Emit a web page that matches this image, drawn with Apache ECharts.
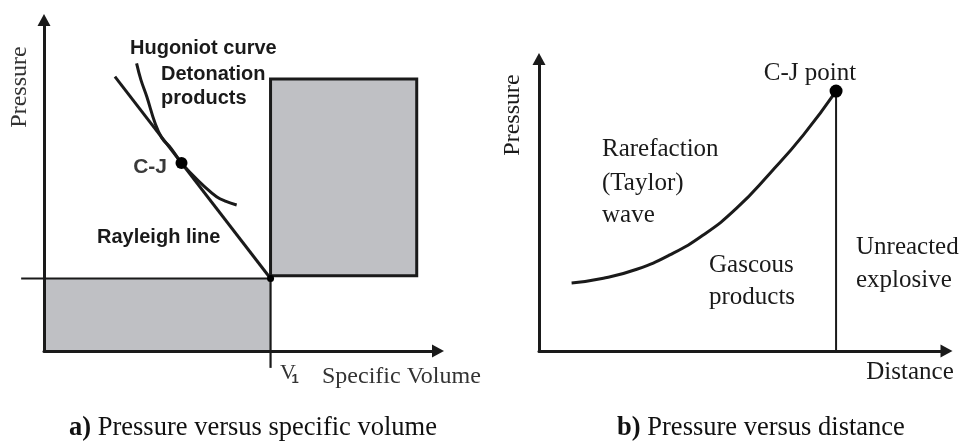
<!DOCTYPE html>
<html>
<head>
<meta charset="utf-8">
<script src="https://cdn.jsdelivr.net/npm/echarts@6/dist/echarts.min.js"></script>
<style>
  html, body { margin: 0; padding: 0; background: #ffffff; }
  #chart { width: 959px; height: 441px; }
</style>
</head>
<body>
<div id="chart"></div>
<script>
// ---------- Panel a: pressure vs specific volume (arbitrary units 0..10) ----------
const aInitialLine = [[-0.58, 2.19, 5.75, 2.19]];        // initial-pressure line segment [x0,y0,x1,y1]
const aV1Line = [[5.75, 2.19, 5.75, -0.51]];             // V1 marker line segment
const aLowerRect = [[0, 0, 5.75, 2.19]];                 // shaded region below
const aUpperRect = [[5.75, 2.27, 9.46, 8.22]];           // shaded region right
const aRayleigh = [[1.80, 8.29], [5.75, 2.19]];
const aHugoniot = [[2.35, 8.69], [2.46, 8.19], [2.61, 7.68], [2.82, 6.88], [2.99, 6.44],
                   [3.22, 6.13], [3.49, 5.68], [3.76, 5.33], [4.06, 4.98], [4.38, 4.66],
                   [4.62, 4.52], [4.89, 4.41]];
const aCJPoint = [[3.49, 5.68]];
const aV1Point = [[5.75, 2.19]];

// ---------- Panel b: pressure vs distance (arbitrary units 0..10) ----------
const bTaylorWave = [[0.80, 2.33], [1.58, 2.49], [2.40, 2.80], [3.21, 3.29], [4.03, 3.97],
                     [4.85, 4.89], [5.67, 6.09], [6.49, 7.40], [7.29, 8.90]];
const bFrontLine = [[7.29, 0], [7.29, 8.90]];
const bCJPoint = [[7.29, 8.90]];

// ---------- Text labels ----------
const labelsA = {
  hugoniot: 'Hugoniot curve', det1: 'Detonation', det2: 'products', cj: 'C-J',
  rayleigh: 'Rayleigh line', yName: 'Pressure', v: 'V', vSub: '1', xName: 'Specific Volume',
  caption: ['a)', ' Pressure versus specific volume']
};
const labelsB = {
  cj: 'C-J point', raref: ['Rarefaction', '(Taylor)', 'wave'], gas: ['Gascous', 'products'],
  unreacted: ['Unreacted', 'explosive'], yName: 'Pressure', xName: 'Distance',
  caption: ['b)', ' Pressure versus distance']
};

const SERIF = '"Liberation Serif", "Times New Roman", serif';
const SANS = '"Liberation Sans", Arial, sans-serif';
const INK = '#1a1a1a';
const FILL = '#bfc0c4';

function axisCommon(lw) {
  return {
    type: 'value', min: 0, max: 10, z: 10,
    axisLine: { show: true, onZero: false, symbol: ['none', 'triangle'], symbolSize: [13, 12],
                lineStyle: { color: INK, width: lw } },
    axisTick: { show: false }, axisLabel: { show: false }, splitLine: { show: false }
  };
}

function rectRender(stroke) {
  return function (params, api) {
    const p0 = api.coord([api.value(0), api.value(1)]);
    const p1 = api.coord([api.value(2), api.value(3)]);
    return {
      type: 'rect',
      shape: { x: Math.min(p0[0], p1[0]), y: Math.min(p0[1], p1[1]),
               width: Math.abs(p1[0] - p0[0]), height: Math.abs(p1[1] - p0[1]) },
      style: stroke ? { fill: FILL, stroke: INK, lineWidth: 3 } : { fill: FILL }
    };
  };
}
function segRender(width) {
  return function (params, api) {
    const p0 = api.coord([api.value(0), api.value(1)]);
    const p1 = api.coord([api.value(2), api.value(3)]);
    return {
      type: 'line',
      shape: { x1: p0[0], y1: p0[1], x2: p1[0], y2: p1[1] },
      style: { stroke: INK, lineWidth: width }
    };
  };
}

function lineSeries(xi, data, width, smooth) {
  return { type: 'line', xAxisIndex: xi, yAxisIndex: xi, data: data, symbol: 'none',
           smooth: smooth || false, clip: false, silent: true, animation: false,
           lineStyle: { color: INK, width: width } };
}
function dotSeries(xi, data, size) {
  return { type: 'scatter', xAxisIndex: xi, yAxisIndex: xi, data: data, symbolSize: size,
           clip: false, silent: true, animation: false, z: 5,
           itemStyle: { color: '#000', opacity: 1 } };
}

function txt(x, y, text, font, opts) {
  opts = opts || {};
  return {
    type: 'text', x: x, y: y, rotation: opts.rotation || 0, silent: true,
    style: { text: text, font: font, fill: opts.fill || INK,
             textAlign: opts.align || 'center', textVerticalAlign: 'middle', rich: opts.rich }
  };
}

const chart = echarts.init(document.getElementById('chart'), null, { renderer: 'canvas' });
const option = {
  animation: false,
  backgroundColor: '#ffffff',
  grid: [
    { left: 44, top: 20, width: 394, height: 331 },
    { left: 539, top: 59, width: 407.5, height: 292 }
  ],
  xAxis: [Object.assign(axisCommon(3), { gridIndex: 0 }), Object.assign(axisCommon(3), { gridIndex: 1 })],
  yAxis: [Object.assign(axisCommon(3), { gridIndex: 0 }), Object.assign(axisCommon(3), { gridIndex: 1 })],
  series: [
    { type: 'custom', xAxisIndex: 0, yAxisIndex: 0, data: aLowerRect, renderItem: rectRender(false), z: 1, silent: true },
    { type: 'custom', xAxisIndex: 0, yAxisIndex: 0, data: aUpperRect, renderItem: rectRender(true), z: 1, silent: true },
    { type: 'custom', xAxisIndex: 0, yAxisIndex: 0, data: aInitialLine, renderItem: segRender(2.2), z: 3, silent: true },
    { type: 'custom', xAxisIndex: 0, yAxisIndex: 0, data: aV1Line, renderItem: segRender(2.2), z: 3, silent: true },
    lineSeries(0, aRayleigh, 3),
    lineSeries(0, aHugoniot, 3, 0.4),
    dotSeries(0, aCJPoint, 12),
    dotSeries(0, aV1Point, 7),
    lineSeries(1, bTaylorWave, 3, 0.5),
    lineSeries(1, bFrontLine, 2),
    dotSeries(1, bCJPoint, 13)
  ],
  graphic: [
    // panel a
    txt(130, 48, labelsA.hugoniot, 'bold 20px ' + SANS, { align: 'left' }),
    txt(161, 74, labelsA.det1, 'bold 20px ' + SANS, { align: 'left' }),
    txt(161, 98, labelsA.det2, 'bold 20px ' + SANS, { align: 'left' }),
    txt(167, 167, labelsA.cj, 'bold 21px ' + SANS, { align: 'right', fill: '#3a3a3a' }),
    txt(97, 237, labelsA.rayleigh, 'bold 20px ' + SANS, { align: 'left' }),
    txt(20, 87, labelsA.yName, '24px ' + SERIF, { rotation: Math.PI / 2, fill: '#333' }),
    txt(288, 373, labelsA.v, '22px ' + SERIF, { fill: '#333' }),
    txt(295, 379, labelsA.vSub, 'bold 13px ' + SANS, { fill: '#333' }),
    txt(322, 377, labelsA.xName, '24px ' + SERIF, { align: 'left', fill: '#333' }),
    txt(253, 428, '{b|' + labelsA.caption[0] + '}{n|' + labelsA.caption[1] + '}', '26.5px ' + SERIF, {
      rich: { b: { fontFamily: SERIF, fontSize: 26.5, fontWeight: 'bold', fill: '#111' },
              n: { fontFamily: SERIF, fontSize: 26.5, fill: '#111' } } }),
    // panel b
    txt(513, 115, labelsB.yName, '24px ' + SERIF, { rotation: Math.PI / 2 }),
    txt(810, 73, labelsB.cj, '25px ' + SERIF),
    txt(602, 149, labelsB.raref[0], '25px ' + SERIF, { align: 'left' }),
    txt(602, 183, labelsB.raref[1], '25px ' + SERIF, { align: 'left' }),
    txt(602, 215, labelsB.raref[2], '25px ' + SERIF, { align: 'left' }),
    txt(709, 265, labelsB.gas[0], '25px ' + SERIF, { align: 'left' }),
    txt(709, 297, labelsB.gas[1], '25px ' + SERIF, { align: 'left' }),
    txt(856, 247, labelsB.unreacted[0], '25px ' + SERIF, { align: 'left' }),
    txt(856, 280, labelsB.unreacted[1], '25px ' + SERIF, { align: 'left' }),
    txt(910, 372, labelsB.xName, '25px ' + SERIF),
    txt(761, 428, '{b|' + labelsB.caption[0] + '}{n|' + labelsB.caption[1] + '}', '26.5px ' + SERIF, {
      rich: { b: { fontFamily: SERIF, fontSize: 26.5, fontWeight: 'bold', fill: '#111' },
              n: { fontFamily: SERIF, fontSize: 26.5, fill: '#111' } } })
  ]
};
chart.setOption(option);
</script>
</body>
</html>
